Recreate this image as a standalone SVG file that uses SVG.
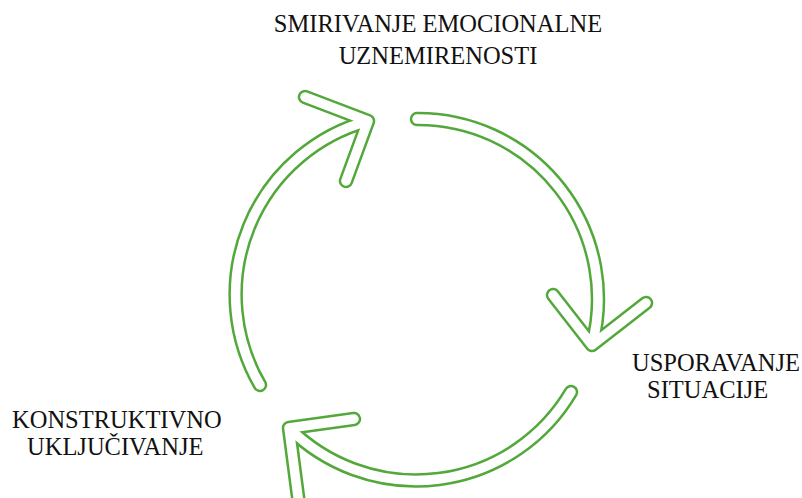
<svg xmlns="http://www.w3.org/2000/svg" width="802" height="498" viewBox="0 0 802 498">
  <style>
    .lbl { font-family: "Liberation Serif", "Times New Roman", serif; font-size: 24.5px; fill: #111; }
    .rim { fill: none; stroke: #52A83A; stroke-width: 14.5; stroke-linecap: round; stroke-linejoin: round; }
    .core { fill: none; stroke: #ffffff; stroke-width: 9.5; stroke-linecap: round; stroke-linejoin: round; }
  </style>
  <defs>
    <!-- each arrow: curved shaft plus two head strokes meeting at the tip -->
    <path id="arc-left" d="M260 385 A180 180 0 0 1 368 121 M305 97 L368 121 L346 181"/>
    <path id="arc-right" d="M417 119 A180 180 0 0 1 592 345 M553 295 L592 345 L646 303"/>
    <path id="arc-bottom" d="M571 392 A180 180 0 0 1 289 428 M354 419 L289 428 L300 512"/>
  </defs>
  <rect width="802" height="498" fill="#ffffff"/>

  <g id="connectors">
    <g id="arrow-left">
      <use href="#arc-left" class="rim"/>
      <use href="#arc-left" class="core"/>
    </g>
    <g id="arrow-right">
      <use href="#arc-right" class="rim"/>
      <use href="#arc-right" class="core"/>
    </g>
    <g id="arrow-bottom">
      <use href="#arc-bottom" class="rim"/>
      <use href="#arc-bottom" class="core"/>
    </g>
  </g>

  <g id="node-smirivanje">
    <text class="lbl" x="438" y="32" text-anchor="middle">SMIRIVANJE EMOCIONALNE</text>
    <text class="lbl" x="438" y="64" text-anchor="middle">UZNEMIRENOSTI</text>
  </g>
  <g id="node-usporavanje">
    <text class="lbl" x="632" y="371">USPORAVANJE</text>
    <text class="lbl" x="647" y="398">SITUACIJE</text>
  </g>
  <g id="node-konstruktivno">
    <text class="lbl" x="12" y="428">KONSTRUKTIVNO</text>
    <text class="lbl" x="27" y="455">UKLJUČIVANJE</text>
  </g>
</svg>
